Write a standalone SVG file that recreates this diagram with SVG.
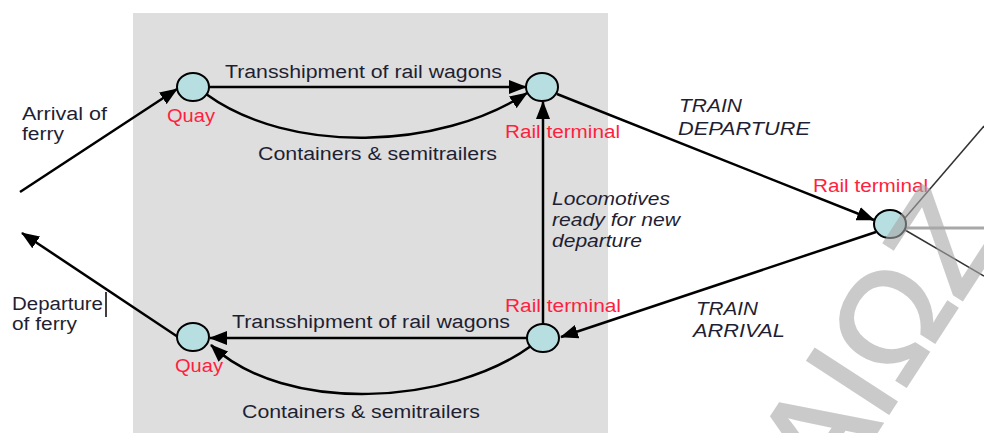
<svg xmlns="http://www.w3.org/2000/svg" width="984" height="433" viewBox="0 0 984 433">
  <style>
    .lbl { font-family: "Liberation Sans", Arial, sans-serif; font-size: 18px; fill: #1f1f33; }
    .it { font-style: italic; }
    .red { fill: #ff1f40; }
    .node { fill: #b7dfe1; stroke: #000; stroke-width: 2; }
    .edge { fill: none; stroke: #000; stroke-width: 2.5; }
    .thin { fill: none; stroke: #333; stroke-width: 1.5; }
    .wm { font-family: "Liberation Sans", Arial, sans-serif; font-size: 140px; fill: #a8a8a8; opacity: 0.6; stroke: #a8a8a8; stroke-width: 3; }
  </style>
  <defs>
    <marker id="arrow" markerUnits="userSpaceOnUse" markerWidth="18" markerHeight="14" refX="17" refY="7" orient="auto">
      <path d="M0,0 L18,7 L0,14 Z" fill="#000"/>
    </marker>
  </defs>

  <rect width="984" height="433" fill="#fff"/>
  <!-- port area -->
  <rect x="133" y="13" width="475" height="420" fill="#dedede"/>

  <g id="connectors">
    <line class="edge" x1="20" y1="192" x2="177" y2="89" marker-end="url(#arrow)"/>
    <line class="edge" x1="178" y1="337" x2="22" y2="233" marker-end="url(#arrow)"/>
    <line class="edge" x1="209" y1="87" x2="526" y2="87" marker-end="url(#arrow)"/>
    <path class="edge" d="M206,94 C290,155 440,150 527,93" marker-end="url(#arrow)"/>
    <line class="edge" x1="543" y1="324" x2="543" y2="102" marker-end="url(#arrow)"/>
    <line class="edge" x1="557" y1="94" x2="874" y2="220" marker-end="url(#arrow)"/>
    <line class="edge" x1="876" y1="232" x2="561" y2="337" marker-end="url(#arrow)"/>
    <line class="edge" x1="527" y1="338" x2="210" y2="338" marker-end="url(#arrow)"/>
    <path class="edge" d="M531,346 C450,405 285,415 211,345" marker-end="url(#arrow)"/>
    <line class="thin" x1="905" y1="218" x2="984" y2="126"/>
    <line x1="905" y1="228" x2="984" y2="228" stroke="#a8a8a8" stroke-width="3"/>
    <line class="thin" x1="905" y1="230" x2="984" y2="276"/>
    <line x1="106" y1="292" x2="106" y2="317" stroke="#000" stroke-width="1.5"/>
  </g>

  <g id="quay-top">
    <ellipse class="node" cx="193" cy="87" rx="16" ry="14"/>
    <text class="lbl red" x="167" y="122" textLength="48" lengthAdjust="spacingAndGlyphs">Quay</text>
  </g>
  <g id="rail-top">
    <ellipse class="node" cx="542" cy="87" rx="16" ry="14"/>
    <text class="lbl red" x="505" y="138" textLength="115" lengthAdjust="spacingAndGlyphs">Rail terminal</text>
  </g>
  <g id="rail-right">
    <ellipse class="node" cx="890" cy="224" rx="16" ry="14"/>
    <text class="lbl red" x="813" y="192" textLength="115" lengthAdjust="spacingAndGlyphs">Rail terminal</text>
  </g>
  <g id="rail-bottom">
    <ellipse class="node" cx="543" cy="338" rx="16" ry="14"/>
    <text class="lbl red" x="505" y="312" textLength="116" lengthAdjust="spacingAndGlyphs">Rail terminal</text>
  </g>
  <g id="quay-bottom">
    <ellipse class="node" cx="193" cy="337" rx="16" ry="14"/>
    <text class="lbl red" x="175" y="372" textLength="48" lengthAdjust="spacingAndGlyphs">Quay</text>
  </g>

  <g id="labels">
    <text class="lbl" x="22" y="120" textLength="85" lengthAdjust="spacingAndGlyphs">Arrival of</text>
    <text class="lbl" x="22" y="140" textLength="42" lengthAdjust="spacingAndGlyphs">ferry</text>
    <text class="lbl" x="12" y="310" textLength="91" lengthAdjust="spacingAndGlyphs">Departure</text>
    <text class="lbl" x="12" y="330" textLength="65" lengthAdjust="spacingAndGlyphs">of ferry</text>
    <text class="lbl" x="225" y="78" textLength="277" lengthAdjust="spacingAndGlyphs">Transshipment of rail wagons</text>
    <text class="lbl" x="258" y="160" textLength="239" lengthAdjust="spacingAndGlyphs">Containers &amp; semitrailers</text>
    <text class="lbl" x="232" y="328" textLength="278" lengthAdjust="spacingAndGlyphs">Transshipment of rail wagons</text>
    <text class="lbl" x="242" y="418" textLength="238" lengthAdjust="spacingAndGlyphs">Containers &amp; semitrailers</text>
    <text class="lbl it" x="552" y="205" textLength="118" lengthAdjust="spacingAndGlyphs">Locomotives</text>
    <text class="lbl it" x="552" y="226" textLength="128" lengthAdjust="spacingAndGlyphs">ready for new</text>
    <text class="lbl it" x="552" y="247" textLength="90" lengthAdjust="spacingAndGlyphs">departure</text>
    <text class="lbl it" x="679" y="112" textLength="63" lengthAdjust="spacingAndGlyphs">TRAIN</text>
    <text class="lbl it" x="678" y="135" textLength="132" lengthAdjust="spacingAndGlyphs">DEPARTURE</text>
    <text class="lbl it" x="696" y="315" textLength="62" lengthAdjust="spacingAndGlyphs">TRAIN</text>
    <text class="lbl it" x="693" y="337" textLength="92" lengthAdjust="spacingAndGlyphs">ARRIVAL</text>
  </g>

  <!-- diagonal watermark lettering -->
  <text class="wm" x="831" y="502" transform="rotate(-57 831 502)">AIΩZ</text>
</svg>
